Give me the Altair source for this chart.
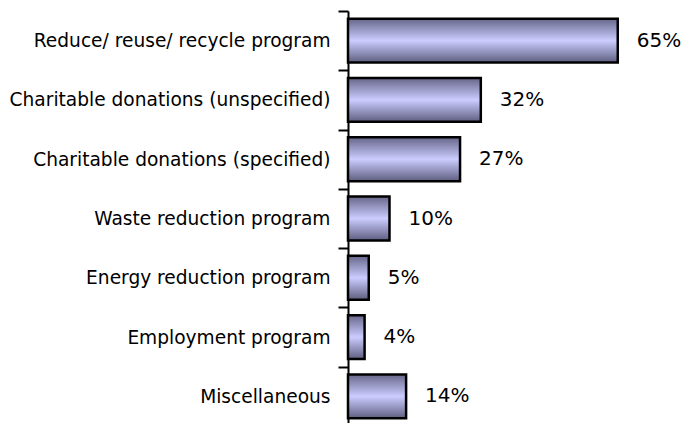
import altair as alt
import pandas as pd

categories = [
    "Reduce/ reuse/ recycle program",
    "Charitable donations (unspecified)",
    "Charitable donations (specified)",
    "Waste reduction program",
    "Energy reduction program",
    "Employment program",
    "Miscellaneous",
]
values = [65, 32, 27, 10, 5, 4, 14]

df = pd.DataFrame({"category": categories, "value": values})
df["label"] = df["value"].astype(str) + "%"

FONT = "DejaVu Sans"

y_enc = alt.Y(
    "category:N",
    sort=categories,
    scale=alt.Scale(paddingInner=0, paddingOuter=0),
    axis=alt.Axis(
        title=None,
        tickBand="extent",
        tickSize=10,
        tickWidth=2,
        tickColor="black",
        domainColor="black",
        domainWidth=2,
        labelPadding=8,
        labelFont=FONT,
        labelFontSize=18.6,
        labelColor="black",
        labelLimit=400,
    ),
)
x_enc = alt.X("value:Q", scale=alt.Scale(domain=[0, 80], nice=False), axis=None)

grad = alt.Gradient(
    gradient="linear",
    x1=0, x2=0, y1=0, y2=1,
    stops=[
        alt.GradientStop(offset=0, color="#66668a"),
        alt.GradientStop(offset=0.5, color="#ccccff"),
        alt.GradientStop(offset=1, color="#5e5e80"),
    ],
)

bars = alt.Chart(df).mark_bar(
    color=grad, stroke="black", strokeWidth=2.5, height={"band": 0.74}
).encode(y=y_enc, x=x_enc)
labels = alt.Chart(df).mark_text(
    align="left", baseline="middle", dx=19, font=FONT, fontSize=20, color="black"
).encode(y=alt.Y("category:N", sort=categories), x="value:Q", text="label:N")

chart = (
    alt.layer(bars, labels)
    .properties(
        width=332,
        height=415,
        autosize=alt.AutoSizeParams(type="none"),
        padding={"left": 340, "top": 3, "right": 5, "bottom": 0},
    )
    .configure_view(stroke=None)
)

chart.save("out.html", embed_options={"renderer": "svg", "actions": False})
